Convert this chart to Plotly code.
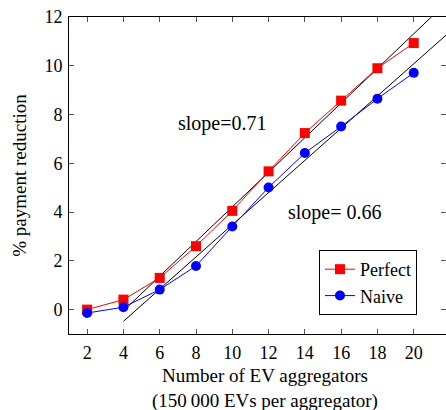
import plotly.graph_objects as go

aggregators = [2, 4, 6, 8, 10, 12, 14, 16, 18, 20]
perfect = [0.0, 0.41, 1.3, 2.6, 4.05, 5.67, 7.24, 8.57, 9.9, 10.93]
naive = [-0.14, 0.1, 0.82, 1.79, 3.41, 5.01, 6.42, 7.51, 8.65, 9.71]

fit_x = [4, 22]
fit_perfect = [-0.05, 12.73]
fit_naive = [-0.48, 11.4]

x_ticks = [2, 4, 6, 8, 10, 12, 14, 16, 18, 20]
y_ticks = [0, 2, 4, 6, 8, 10, 12]

FONT = "Liberation Serif, Times New Roman, serif"

fig = go.Figure()
fig.add_trace(go.Scatter(x=fit_x, y=fit_perfect, mode="lines",
                         line=dict(color="black", width=1), showlegend=False,
                         hoverinfo="skip"))
fig.add_trace(go.Scatter(x=fit_x, y=fit_naive, mode="lines",
                         line=dict(color="black", width=1), showlegend=False,
                         hoverinfo="skip"))
fig.add_trace(go.Scatter(x=aggregators, y=perfect, mode="lines+markers", name="Perfect",
                         line=dict(color="red", width=1),
                         marker=dict(symbol="square", size=10, color="red")))
fig.add_trace(go.Scatter(x=aggregators, y=naive, mode="lines+markers", name="Naive",
                         line=dict(color="blue", width=1),
                         marker=dict(symbol="circle", size=10, color="blue")))

fig.add_annotation(x=9.45, y=7.62, text="slope=0.71", showarrow=False,
                   font=dict(family=FONT, size=20, color="black"))
fig.add_annotation(x=15.64, y=3.99, text="slope= 0.66", showarrow=False,
                   font=dict(family=FONT, size=20, color="black"))
# x-axis title (two lines) placed as paper annotation
fig.add_annotation(xref="paper", yref="paper", x=0.52, y=-0.172,
                   xanchor="center", yanchor="middle", showarrow=False,
                   text="Number of EV aggregators<br>(150\u2009000 EVs per aggregator)",
                   font=dict(family=FONT, size=19, color="black"))

axis_common = dict(showgrid=False, zeroline=False, showline=True, linecolor="black",
                   linewidth=1, mirror="ticks", ticks="inside", ticklen=5,
                   tickcolor="#555", tickwidth=1, automargin=False,
                   tickfont=dict(family=FONT, size=18, color="black"))

fig.update_xaxes(range=[1, 21.78], tickvals=x_ticks, ticklabelstandoff=2,
                 **axis_common)
fig.update_yaxes(range=[-1, 12], tickvals=y_ticks, ticklabelstandoff=2,
                 title=dict(text="% payment reduction",
                            font=dict(family=FONT, size=19, color="black"), standoff=12),
                 **axis_common)

fig.update_layout(
    width=446, height=410,
    margin=dict(l=69, r=0, t=17, b=76),
    plot_bgcolor="white", paper_bgcolor="white",
    font=dict(family=FONT, color="black"),
    legend=dict(x=0.923, y=0.06, xanchor="right", yanchor="bottom",
                bordercolor="black", borderwidth=1, bgcolor="white",
                font=dict(family=FONT, size=18, color="black"),
                tracegroupgap=0, itemwidth=30),
)

fig.write_html("out.html")
